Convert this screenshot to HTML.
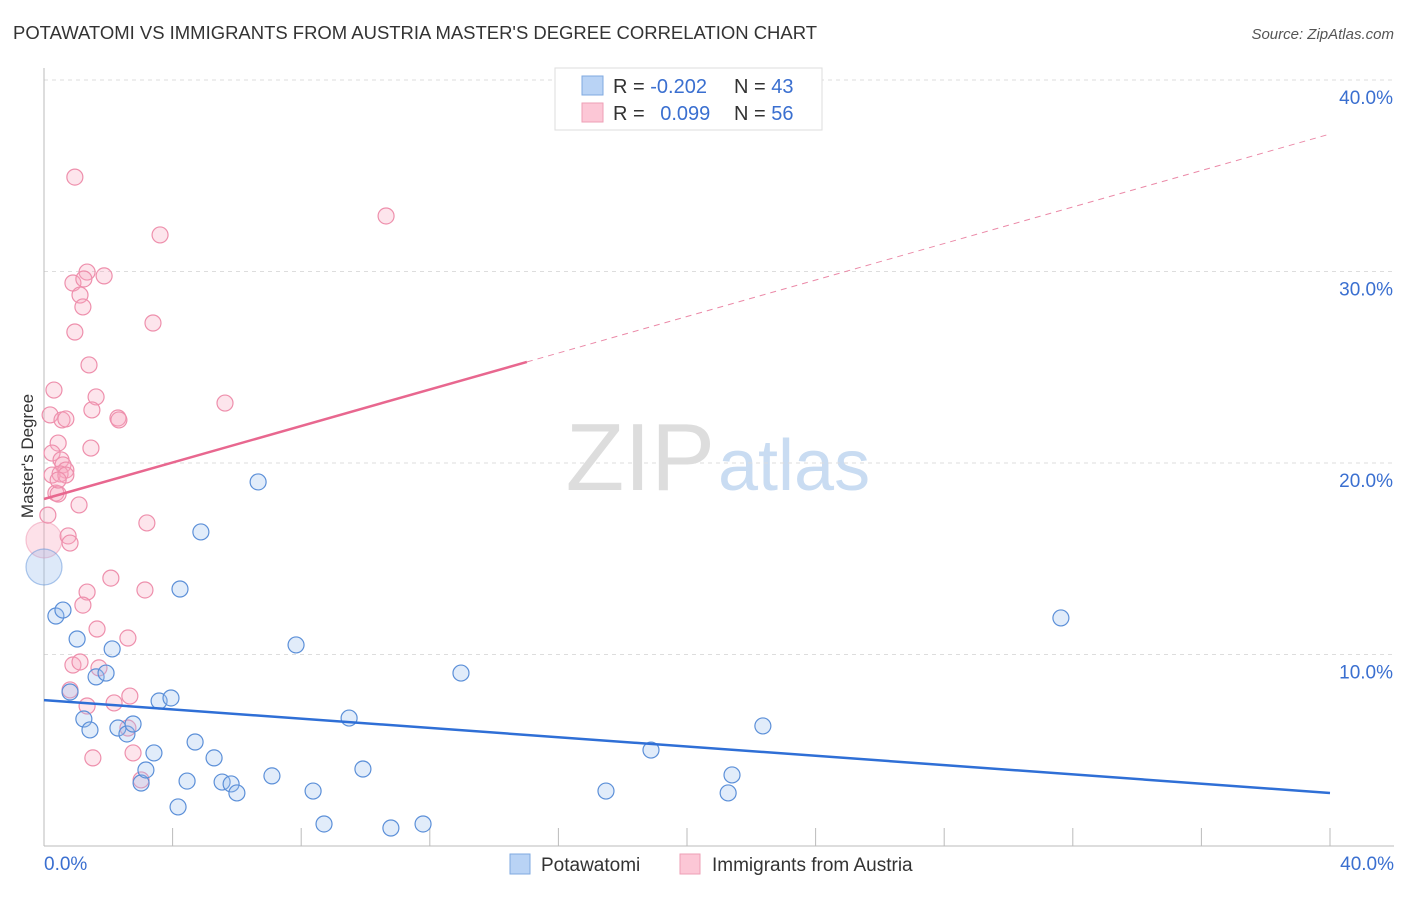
<!DOCTYPE html>
<html><head><meta charset="utf-8"><style>
body{margin:0;background:#fff;font-family:"Liberation Sans",sans-serif;}
svg text{font-family:"Liberation Sans",sans-serif;}
</style></head><body>
<svg id="chart" width="1406" height="892">
<text x="13" y="39" font-size="18" fill="#333" textLength="804" lengthAdjust="spacingAndGlyphs">POTAWATOMI VS IMMIGRANTS FROM AUSTRIA MASTER'S DEGREE CORRELATION CHART</text>
<text x="1394" y="39" font-size="15" fill="#555" font-style="italic" text-anchor="end">Source: ZipAtlas.com</text>
<text x="33" y="456" font-size="17" fill="#333" text-anchor="middle" transform="rotate(-90 33 456)">Master's Degree</text>
<text x="715" y="490" font-size="96" fill="#ddd" font-family="Liberation Serif" text-anchor="end">ZIP</text>
<text x="718" y="490" font-size="72" fill="#c9dcf2">atlas</text>
<g id="grid"></g><g id="marks"></g>
<g>
<rect x="555" y="68" width="267" height="62" fill="#fff" stroke="#ddd"/>
<rect x="582" y="76" width="21" height="19" fill="#b9d3f5" stroke="#7fa9e0"/>
<rect x="582" y="103" width="21" height="19" fill="#fcc7d6" stroke="#ee9fb6"/>
<text x="613" y="93" font-size="20" fill="#333">R = <tspan fill="#3a6fd0">-0.202</tspan></text>
<text x="734" y="93" font-size="20" fill="#333">N = <tspan fill="#3a6fd0">43</tspan></text>
<text x="613" y="120" font-size="20" fill="#333">R = <tspan fill="#3a6fd0" dx="10">0.099</tspan></text>
<text x="734" y="120" font-size="20" fill="#333">N = <tspan fill="#3a6fd0">56</tspan></text>
</g>
<g>
<rect x="510" y="854" width="20" height="20" fill="#b9d3f5" stroke="#7fa9e0"/>
<text x="541" y="871" font-size="19" fill="#333">Potawatomi</text>
<rect x="680" y="854" width="20" height="20" fill="#fcc7d6" stroke="#ee9fb6"/>
<text x="712" y="871" font-size="19" fill="#333">Immigrants from Austria</text>
</g>
</svg>
<script>
const xTicks=[0,40];
const yTicks=[10,20,30,40];
const blueX=[0,0.37,0.59,1.03,2.12,0.81,1.24,1.43,1.62,1.93,2.3,2.58,2.77,3.02,3.17,3.42,3.58,3.95,4.17,4.23,4.45,4.7,4.88,5.29,5.54,5.82,6.0,6.66,7.09,7.84,8.37,8.71,9.49,9.92,10.79,11.79,12.97,17.48,18.88,21.28,21.4,22.36,31.63];
const blueY=[14.57,12.01,12.32,10.81,10.29,8.04,6.63,6.06,8.83,9.03,6.16,5.85,6.37,3.29,3.97,4.86,7.57,7.73,2.04,13.42,3.39,5.43,16.4,4.6,3.34,3.24,2.77,19.01,3.66,10.5,2.87,1.15,6.68,4.02,0.94,1.15,9.03,2.87,5.01,2.77,3.71,6.27,11.91];
const pinkX=[0,0.96,3.61,10.64,0.9,1.34,1.87,1.24,1.12,1.21,0.96,3.39,1.4,0.31,1.62,1.49,0.19,0.56,0.68,2.3,2.33,5.63,0.44,1.46,0.25,0.53,0.59,0.68,0.25,0.5,0.37,0.44,1.09,3.2,0.75,0.81,2.08,1.34,3.14,1.21,1.65,2.61,0.9,1.12,1.71,0.81,2.67,1.34,2.18,2.61,1.52,2.77,3.02,0.12,0.68,0.44];
const pinkY=[15.98,34.93,31.91,32.9,29.4,29.97,29.77,29.61,28.77,28.15,26.84,27.31,25.12,23.81,23.45,22.77,22.51,22.25,22.3,22.35,22.25,23.13,21.04,20.78,20.52,20.16,19.9,19.63,19.37,19.43,18.43,18.38,17.81,16.87,16.19,15.82,13.99,13.26,13.37,12.58,11.33,10.86,9.45,9.61,9.3,8.15,7.83,7.31,7.47,6.16,4.6,4.86,3.45,17.28,19.37,19.11];
const blueTrend=[7.62,2.77];
const pinkTrend=[18.12,37.18];
const pinkSolidEnd=15.02;
const ns="http://www.w3.org/2000/svg";
const X=v=>44+v*32.15, Y=v=>846-v*19.15;
function mk(t,a,p){const e=document.createElementNS(ns,t);for(const k in a)e.setAttribute(k,a[k]);p.appendChild(e);return e;}
const g=document.getElementById('grid'),m=document.getElementById('marks');
yTicks.forEach(v=>{const l=mk('line',{x1:44,x2:1394,y1:Y(v),y2:Y(v),stroke:'#ddd','stroke-dasharray':'4 4'},g);


const t=mk('text',{x:1393,y:Y(v)+24,'font-size':19,fill:'#3a6fd0','text-anchor':'end'},g);t.textContent=v.toFixed(1)+'%';

});
mk('line',{x1:44,x2:44,y1:68,y2:846,stroke:'#bbb'},g);
mk('line',{x1:44,x2:1394,y1:846,y2:846,stroke:'#bbb'},g);
for(let i=1;i<=10;i++){mk('line',{x1:44+i*128.6,x2:44+i*128.6,y1:828,y2:846,stroke:'#bbb'},g);}
xTicks.forEach((v,i)=>{const t=mk('text',{x:i?1394:44,y:870,'font-size':19,fill:'#3a6fd0','text-anchor':i?'end':'start'},g);t.textContent=v.toFixed(1)+'%';

});
function pts(xs,ys,fill,stroke,name){xs.forEach((x,i)=>{const big=(x===0);const c=mk('circle',{cx:X(x),cy:Y(ys[i]),r:big?18:8,fill:fill,'fill-opacity':big?0.35:0.3,stroke:stroke,'stroke-opacity':big?0.5:1,'stroke-width':1.2},m);

});}
pts(pinkX,pinkY,'#f8a8c0','#ee8fac','austria-point');
pts(blueX,blueY,'#9dc0ee','#5b8fd8','potawatomi-point');
const bl=mk('line',{x1:X(0),y1:Y(blueTrend[0]),x2:X(40),y2:Y(blueTrend[1]),stroke:'#2f6fd6','stroke-width':2.5},m);


const pAt=x=>pinkTrend[0]+(pinkTrend[1]-pinkTrend[0])*x/40;
const ps=mk('line',{x1:X(0),y1:Y(pAt(0)),x2:X(pinkSolidEnd),y2:Y(pAt(pinkSolidEnd)),stroke:'#e8678f','stroke-width':2.5},m);


const pd=mk('line',{x1:X(pinkSolidEnd),y1:Y(pAt(pinkSolidEnd)),x2:X(40),y2:Y(pAt(40)),stroke:'#eb8aa8','stroke-width':1,'stroke-dasharray':'6 5'},m);


</script>
</body></html>
